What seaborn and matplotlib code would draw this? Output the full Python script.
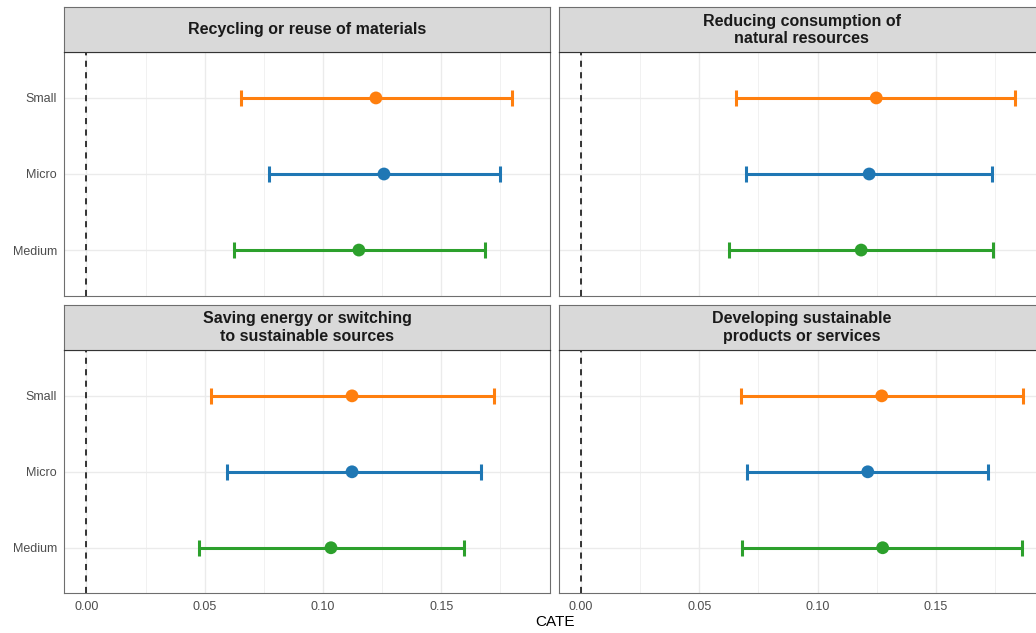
import numpy as np
import pandas as pd
import matplotlib
matplotlib.use("Agg")
import matplotlib.pyplot as plt
from matplotlib.ticker import MultipleLocator
import seaborn as sns

# Firm size groups (top to bottom) and their colours
sizes = ["Small", "Micro", "Medium"]
size_colors = {"Small": "#ff7f0e", "Micro": "#1f77b4", "Medium": "#2ca02c"}

# Facet titles
outcomes = [
    "Recycling or reuse of materials",
    "Reducing consumption of\nnatural resources",
    "Saving energy or switching\nto sustainable sources",
    "Developing sustainable\nproducts or services",
]

# CATE estimates with lower / upper interval bounds, per outcome (Small, Micro, Medium)
recycling_est = [0.1224, 0.1258, 0.1152]
recycling_lo = [0.0653, 0.0771, 0.0623]
recycling_hi = [0.1799, 0.1748, 0.1685]

resources_est = [0.1248, 0.1218, 0.1184]
resources_lo = [0.0656, 0.0698, 0.0626]
resources_hi = [0.1836, 0.1739, 0.1743]

energy_est = [0.1123, 0.1123, 0.1034]
energy_lo = [0.0525, 0.0593, 0.0475]
energy_hi = [0.1725, 0.1670, 0.1597]

products_est = [0.1271, 0.1212, 0.1275]
products_lo = [0.0678, 0.0703, 0.0682]
products_hi = [0.1867, 0.1720, 0.1864]

rows = []
for name, est, lo, hi in [
    (outcomes[0], recycling_est, recycling_lo, recycling_hi),
    (outcomes[1], resources_est, resources_lo, resources_hi),
    (outcomes[2], energy_est, energy_lo, energy_hi),
    (outcomes[3], products_est, products_lo, products_hi),
]:
    for s, e, l, h in zip(sizes, est, lo, hi):
        rows.append({"outcome": name, "size": s, "cate": e, "lo": l, "hi": h})
df = pd.DataFrame(rows)
df["ypos"] = df["size"].map({s: i for i, s in enumerate(sizes)})

sns.set_theme(style="white")
plt.rcParams["font.family"] = ["Liberation Sans", "DejaVu Sans"]

W, H = 1036, 633
fig = plt.figure(figsize=(W / 100, H / 100), dpi=100)

# panel boxes in pixels: (left, top, right, bottom, strip top)
panel_px = [
    (64.3, 52.3, 550.0, 295.7, 7.3),
    (559.0, 52.3, 1044.7, 295.7, 7.3),
    (64.3, 350.3, 550.0, 593.3, 304.7),
    (559.0, 350.3, 1044.7, 593.3, 304.7),
]

border = "#6e6e6e"
dark_border = "#333333"
grid_c = "#ebebeb"

for i, (outcome, (l, t, r, b, st)) in enumerate(zip(outcomes, panel_px)):
    ax = fig.add_axes([l / W, 1 - b / H, (r - l) / W, (b - t) / H])
    sub = df[df["outcome"] == outcome]

    ax.set_xlim(-0.00934, 0.196)
    ax.set_ylim(2.6, -0.6)
    ax.xaxis.set_major_locator(MultipleLocator(0.05))
    ax.xaxis.set_minor_locator(MultipleLocator(0.025))
    ax.grid(which="major", axis="x", color=grid_c, lw=1.0)
    ax.grid(which="minor", axis="x", color=grid_c, lw=0.5)
    ax.grid(which="major", axis="y", color=grid_c, lw=1.0)
    ax.set_axisbelow(True)

    ax.axvline(0, color="black", lw=1.1, ls=(0, (4, 3.5)), zorder=1)

    for _, row in sub.iterrows():
        c = size_colors[row["size"]]
        ax.errorbar(row["cate"], row["ypos"],
                    xerr=[[row["cate"] - row["lo"]], [row["hi"] - row["cate"]]],
                    fmt="none", ecolor=c, elinewidth=2.2, capsize=5.5,
                    capthick=2.2, zorder=2)
    sns.scatterplot(data=sub, x="cate", y="ypos", hue="size", palette=size_colors,
                    s=85, edgecolor="none", legend=False, ax=ax, zorder=3)

    ax.set_yticks(range(len(sizes)))
    ax.set_xlabel("")
    ax.set_ylabel("")
    ax.tick_params(axis="both", which="major", length=2.5, width=0.8,
                   color=dark_border, labelsize=9, labelcolor="#4d4d4d", pad=2.8)
    ax.tick_params(axis="x", which="minor", length=0)
    if i % 2 == 0:
        ax.set_yticklabels(sizes)
    else:
        ax.set_yticklabels([])
        ax.tick_params(axis="y", length=0)
    if i >= 2:
        ax.set_xticks([0, 0.05, 0.10, 0.15])
        ax.set_xticklabels(["0.00", "0.05", "0.10", "0.15"])
    else:
        ax.set_xticklabels([])
        ax.tick_params(axis="x", which="major", length=0)
    for name, sp in ax.spines.items():
        sp.set_color(dark_border if name == "top" else border)
        sp.set_linewidth(0.8)

    # facet strip
    sax = fig.add_axes([l / W, 1 - t / H, (r - l) / W, (t - st) / H])
    sax.set_facecolor("#d9d9d9")
    sax.set_xticks([])
    sax.set_yticks([])
    for name, sp in sax.spines.items():
        sp.set_color(dark_border if name == "bottom" else border)
        sp.set_linewidth(0.8)
    sax.text(0.5, 0.5, outcome, transform=sax.transAxes, ha="center", va="center",
             fontsize=11.5, fontweight="bold", color="#1a1a1a", linespacing=1.2)

fig.text(555 / W, 1 - 622 / H, "CATE", ha="center", va="center", fontsize=11,
         color="black")

fig.savefig("out.png", dpi=100)
